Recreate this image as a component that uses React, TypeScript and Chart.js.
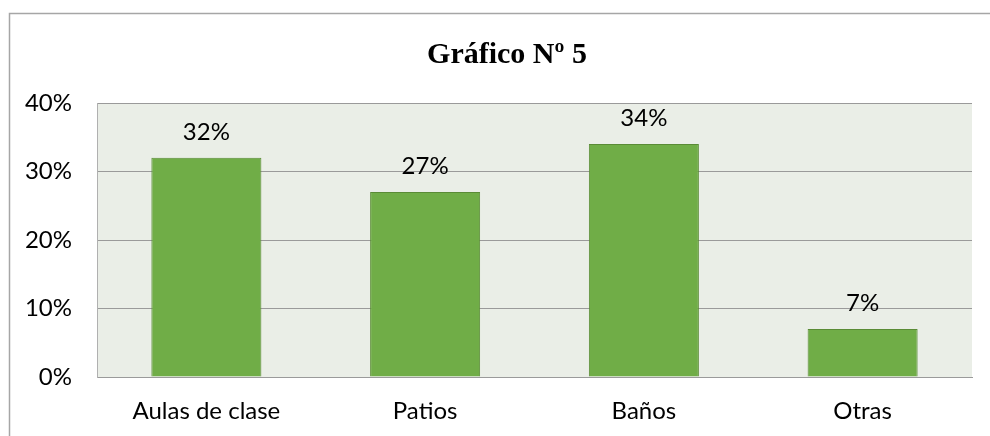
import React, { useEffect, useRef } from "react";
import { Chart, registerables } from "chart.js";
Chart.register(...registerables);

const categories = ["Aulas de clase", "Patios", "Baños", "Otras"];
const values = [32, 27, 34, 7];
const yMin = 0;
const yMax = 40;
const yStep = 10;
const chartTitle = "Gráfico Nº 5";

const FONT = "Lato";

export default function App() {
  const ref = useRef<HTMLCanvasElement | null>(null);
  useEffect(() => {
    const canvas = ref.current;
    if (!canvas) return;
    const bgPlugin = {
      id: "bgPlugin",
      beforeDraw(chart: any) {
        const { ctx, chartArea } = chart;
        ctx.save();
        ctx.fillStyle = "#ffffff";
        ctx.fillRect(0, 0, chart.width, chart.height);
        ctx.strokeStyle = "#a6a6a6";
        ctx.lineWidth = 1.5;
        ctx.strokeRect(9.5, 13.5, 1100, 600);
        ctx.fillStyle = "#eaeee7";
        ctx.fillRect(chartArea.left, chartArea.top, chartArea.right - chartArea.left, chartArea.bottom - chartArea.top);
        ctx.restore();
      },
      afterDraw(chart: any) {
        const { ctx } = chart;
        ctx.save();
        ctx.fillStyle = "#000";
        ctx.font = "bold 30px 'Liberation Serif', 'Times New Roman', serif";
        ctx.textAlign = "center";
        ctx.textBaseline = "alphabetic";
        ctx.fillText(chartTitle, 507, 63);
        ctx.restore();
      },
    };
    const labelPlugin = {
      id: "labelPlugin",
      afterDatasetsDraw(chart: any) {
        const { ctx } = chart;
        const meta = chart.getDatasetMeta(0);
        ctx.save();
        ctx.fillStyle = "#000";
        ctx.font = `24px ${FONT}`;
        ctx.textAlign = "center";
        ctx.textBaseline = "alphabetic";
        meta.data.forEach((bar: any, i: number) => {
          ctx.fillText(values[i] + "%", bar.x, bar.y - 18);
        });
        ctx.restore();
      },
    };
    const chart = new Chart(canvas, {
      type: "bar",
      data: {
        labels: categories,
        datasets: [
          {
            data: values,
            backgroundColor: "#70ad47",
            borderColor: "#5a8b36",
            borderWidth: 1,
            categoryPercentage: 1,
            barPercentage: 0.503,
          },
        ],
      },
      options: {
        responsive: false,
        animation: false,
        devicePixelRatio: 1,
        layout: { padding: { top: 103, right: 18, left: 0, bottom: 0 } },
        plugins: {
          legend: { display: false },
          title: { display: false },
          tooltip: { enabled: false },
        },
        scales: {
          x: {
            grid: { display: false, drawTicks: false },
            border: { display: true, color: "#9a9a9a", width: 1 },
            ticks: { font: { family: FONT, size: 24 }, color: "#000", padding: 20 },
            afterFit: (s: any) => {
              s.height = 59;
            },
          },
          y: {
            min: yMin,
            max: yMax,
            grid: { color: "#9a9a9a", lineWidth: 1, drawTicks: false },
            border: { display: true, color: "#b0b0b0", width: 1 },
            ticks: {
              stepSize: yStep,
              font: { family: FONT, size: 24 },
              color: "#000",
              padding: 25,
              callback: (v: any) => v + "%",
            },
            afterFit: (s: any) => {
              s.width = 97;
            },
          },
        },
      },
      plugins: [bgPlugin, labelPlugin],
    } as any);
    return () => chart.destroy();
  }, []);
  return (
    <div style={{ position: "absolute", left: 0, top: 0, width: 990, height: 436 }}>
      <canvas ref={ref} width={990} height={436} />
    </div>
  );
}
